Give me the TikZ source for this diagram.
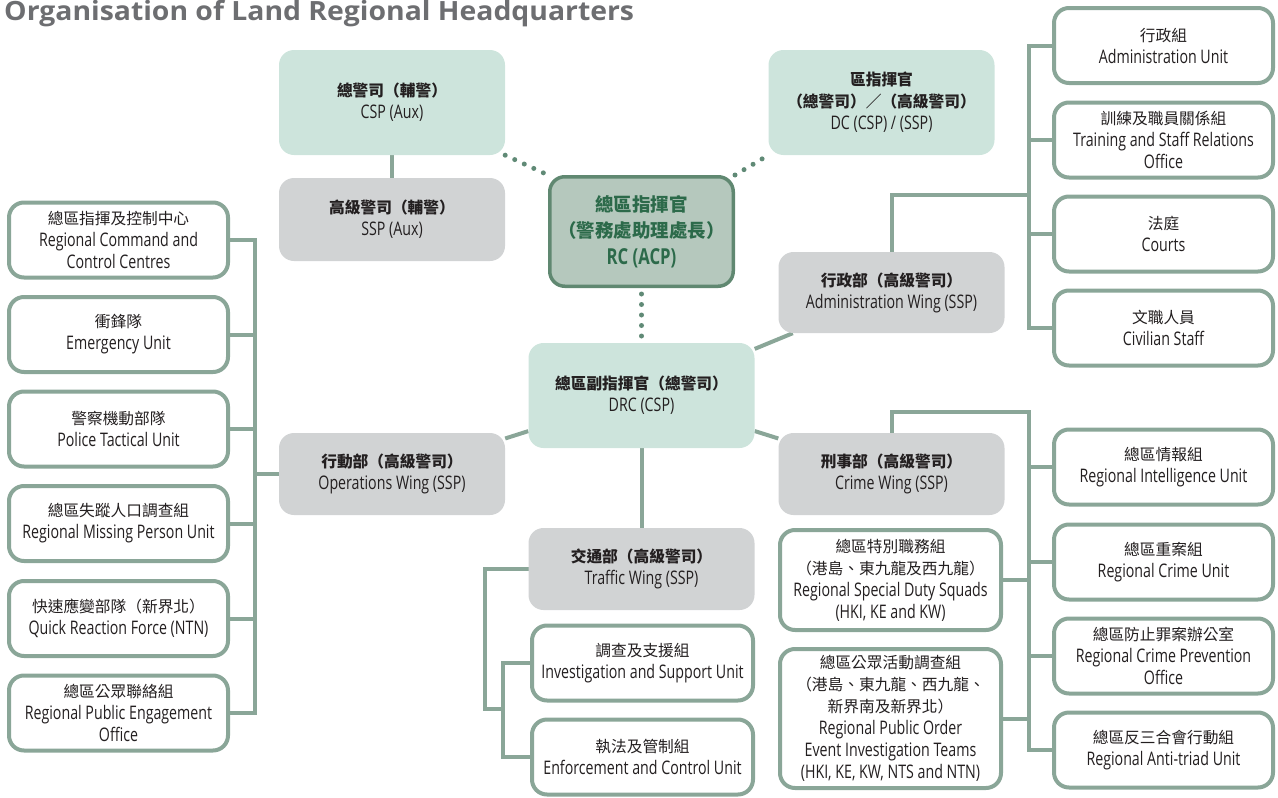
\documentclass[tikz,border=0pt]{standalone}
\usepackage{fontspec}
\setmainfont{Open Sans}[FakeStretch=0.76]
\newfontfamily\titlefont{Open Sans}[FakeStretch=1.07]
\newfontfamily\cjkfont{Noto Sans CJK TC}[Scale=0.84]
\usetikzlibrary{calc,backgrounds}
\definecolor{ink}{RGB}{35,31,32}
\definecolor{titlegrey}{RGB}{109,110,113}
\definecolor{mint}{RGB}{205,228,220}
\definecolor{mist}{RGB}{209,211,212}
\definecolor{rule}{RGB}{138,166,152}
\definecolor{rcfill}{RGB}{181,200,189}
\definecolor{rcline}{RGB}{96,136,113}
\definecolor{rcink}{RGB}{44,106,74}
\definecolor{dotc}{RGB}{96,138,118}
\tikzset{
  box/.style={rounded corners=15pt,align=center,text=ink,inner sep=0pt,font=\fontsize{18.7}{22}\selectfont},
  mintbox/.style={box,fill=mint,minimum width=226pt,minimum height=105pt},
  greybox/.style={box,fill=mist,minimum width=226pt,minimum height=82pt},
  unitbox/.style={box,draw=rule,line width=4pt,fill=white,minimum width=219pt,minimum height=75pt},
  chiefbox/.style={box,fill=rcfill,draw=rcline,line width=3.5pt,minimum width=183.5pt,minimum height=109.5pt,
    text=rcink,font=\bfseries\fontsize{22}{26.7}\selectfont},
  link/.style={draw=rule,line width=4pt,line cap=rect},
  spoke/.style={draw=rule,line width=4pt},
  dotlink/.style={draw=dotc,line width=5pt,line cap=round,dash pattern=on 0pt off 10.5pt},
}
\newcommand{\zh}[1]{{\cjkfont #1}}
\newcommand{\zhb}[1]{{\cjkfont\bfseries #1}}

\begin{document}
\begin{tikzpicture}[x=1pt,y=-1pt]
\useasboundingbox (0,0) rectangle (1278,798);
\node[anchor=base west,inner sep=0pt,text=titlegrey,font=\titlefont\bfseries\fontsize{26.5}{30}\selectfont]
  (title) at (4,20) {Organisation of Land Regional Headquarters};
% command chain
\node[mintbox] (cspaux) at (392,102.5) {\zhb{總警司（輔警）}\\CSP (Aux)};
\node[greybox,minimum height=83pt] (sspaux) at (392,219.5) {\zhb{高級警司（輔警）}\\SSP (Aux)};
\node[chiefbox] (rc) at (641.5,231.5) {{\cjkfont\bfseries 總區指揮官}\\{\cjkfont\bfseries （警務處助理處長）}\\RC (ACP)};
\node[mintbox] (dc) at (881.5,102.5) {\zhb{區指揮官}\\\zhb{（總警司）／（高級警司）}\\DC (CSP) / (SSP)};
\node[mintbox] (drc) at (641.5,395.5) {\zhb{總區副指揮官（總警司）}\\DRC (CSP)};
% wings
\node[greybox,minimum height=81pt] (adm) at (891.5,292.5) {\zhb{行政部（高級警司）}\\Administration Wing (SSP)};
\node[greybox] (crime) at (891.5,474) {\zhb{刑事部（高級警司）}\\Crime Wing (SSP)};
\node[greybox] (ops) at (392,474) {\zhb{行動部（高級警司）}\\Operations Wing (SSP)};
\node[greybox] (traffic) at (641.5,569) {\zhb{交通部（高級警司）}\\Traffic Wing (SSP)};
% operations units
\foreach \n/\y/\txt in {
  lu1/240/{\zh{總區指揮及控制中心}\\Regional Command and\\Control Centres},
  lu2/334.5/{\zh{衝鋒隊}\\Emergency Unit},
  lu3/429/{\zh{警察機動部隊}\\Police Tactical Unit},
  lu4/523.5/{\zh{總區失蹤人口調查組}\\Regional Missing Person Unit},
  lu5/618.5/{\zh{快速應變部隊（新界北）}\\Quick Reaction Force (NTN)},
  lu6/713/{\zh{總區公眾聯絡組}\\Regional Public Engagement\\Office}}
  \node[unitbox] (\n) at (118.5,\y) {\txt};
% administration units
\foreach \n/\y/\txt in {
  au1/45.5/{\zh{行政組}\\Administration Unit},
  au2/140/{\zh{訓練及職員關係組}\\Training and Staff Relations\\Office},
  au3/234/{\zh{法庭}\\Courts},
  au4/328/{\zh{文職人員}\\Civilian Staff}}
  \node[unitbox] (\n) at (1163.5,\y) {\txt};
% crime units
\foreach \n/\y/\txt in {
  cu1/467/{\zh{總區情報組}\\Regional Intelligence Unit},
  cu2/562/{\zh{總區重案組}\\Regional Crime Unit},
  cu3/656/{\zh{總區防止罪案辦公室}\\Regional Crime Prevention\\Office},
  cu4/750/{\zh{總區反三合會行動組}\\Regional Anti-triad Unit}}
  \node[unitbox] (\n) at (1163.5,\y) {\txt};
\node[unitbox,minimum width=221pt,minimum height=100pt] (sd) at (890.5,580)
  {\zh{總區特別職務組}\\\zh{（港島、東九龍及西九龍）}\\Regional Special Duty Squads\\(HKI, KE and KW)};
\node[unitbox,minimum width=221pt,minimum height=139pt] (po) at (890.5,718.5)
  {\zh{總區公眾活動調查組}\\\zh{（港島、東九龍、西九龍、}\\\zh{新界南及新界北）}\\Regional Public Order\\Event Investigation Teams\\(HKI, KE, KW, NTS and NTN)};
% traffic units
\node[unitbox,minimum width=221pt] (tu1) at (642.5,663) {\zh{調查及支援組}\\Investigation and Support Unit};
\node[unitbox,minimum width=221pt] (tu2) at (642.5,757) {\zh{執法及管制組}\\Enforcement and Control Unit};
% connectors
\begin{scope}[on background layer]
  \coordinate (lbus) at (255,0);
  \coordinate (abus) at (1029,195);
  \coordinate (cbus) at (1029,412);
  \coordinate (tjoin) at (503,709);
  \draw[dotlink] (cspaux.south east) -- (rc.north west);
  \draw[dotlink] (rc.north east) -- (dc.south west);
  \draw[dotlink,shorten <=6pt] (rc) -- (drc);
  \draw[spoke] (cspaux) -- (sspaux);
  \foreach \w in {adm,crime,ops,traffic}{\draw[spoke] (drc) -- (\w);}
  % operations bus
  \draw[link] (lu1.east -| lbus) -- (lu6.east -| lbus);
  \foreach \n in {lu1,lu2,lu3,lu4,lu5,lu6}{\draw[link] (\n.east) -- (\n.east -| lbus);}
  \draw[link] (ops.west) -- (ops.west -| lbus);
  % administration bus
  \draw[link] (adm.north) |- (abus);
  \draw[link] (au1.west -| abus) -- (au4.west -| abus);
  \foreach \n in {au1,au2,au3,au4}{\draw[link] (\n.west) -- (\n.west -| abus);}
  % crime bus
  \draw[link] (crime.north) |- (cbus) -- (cu4.west -| cbus);
  \foreach \n in {cu1,cu2,cu3,cu4}{\draw[link] (\n.west) -- (\n.west -| cbus);}
  \foreach \n in {sd,po}{\draw[link] (\n.east) -- (\n.east -| cbus);}
  % traffic bus
  \draw[link] (traffic.west) -- ++(-43,0) |- (tjoin);
  \draw[link] (tu1.west) -- (tu1.west -| tjoin) -- (tu2.west -| tjoin) -- (tu2.west);
\end{scope}
\end{tikzpicture}
\end{document}
